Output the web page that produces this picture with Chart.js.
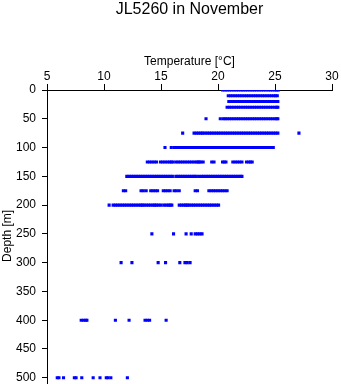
<!DOCTYPE html>
<html>
<head>
<meta charset="utf-8">
<script src="https://cdn.jsdelivr.net/npm/chart.js@4"></script>
<style>
  body { margin: 0; background: #fff; }
</style>
</head>
<body>
<canvas id="jl_chart" width="341" height="384"></canvas>
<script>
// 深さ別の水温データ (読み取り値)
var depths = [0, 10, 20, 30, 50, 75, 100, 125, 150, 175, 200, 250, 300, 400, 500];

var t0 = [20.4, 20.62, 20.8, 21.0, 21.2, 21.41, 21.6, 21.8, 22.02, 22.2, 22.4, 22.6, 22.81, 23.0, 23.2, 23.4, 23.6, 23.8, 24.0, 24.2, 24.41, 24.6, 24.8, 25.0, 25.15, 25.3];
var t10 = [20.9, 21.1, 21.3, 21.5, 21.7, 21.9, 22.1, 22.3, 22.5, 22.7, 22.9, 23.1, 23.3, 23.5, 23.7, 23.9, 24.1, 24.3, 24.5, 24.7, 24.9, 25.05, 25.2];
var t20 = [20.95, 21.15, 21.35, 21.55, 21.75, 21.95, 22.15, 22.35, 22.55, 22.75, 22.95, 23.15, 23.35, 23.55, 23.75, 23.95, 24.15, 24.35, 24.55, 24.75, 24.95, 25.1, 25.25];
var t30 = [20.8, 21.0, 21.2, 21.4, 21.6, 21.8, 22.0, 22.2, 22.4, 22.6, 22.8, 23.0, 23.2, 23.4, 23.6, 23.8, 24.0, 24.2, 24.4, 24.6, 24.8, 25.0, 25.15, 25.25];
var t50 = [18.95, 20.2, 20.45, 20.62, 20.8, 21.0, 21.2, 21.4, 21.6, 21.8, 22.0, 22.2, 22.4, 22.6, 22.8, 23.0, 23.2, 23.4, 23.6, 23.8, 24.0, 24.2, 24.4, 24.6, 24.8, 25.0, 25.15, 25.25];
var t75 = [16.9, 17.9, 18.1, 18.3, 18.5, 18.65, 18.85, 19.05, 19.25, 19.45, 19.65, 19.85, 20.05, 20.25, 20.45, 20.65, 20.85, 21.05, 21.25, 21.45, 21.65, 21.85, 22.05, 22.25, 22.45, 22.65, 22.85, 23.05, 23.25, 23.45, 23.65, 23.85, 24.05, 24.25, 24.45, 24.65, 24.85, 25.05, 25.25, 27.1];
var t100 = [15.35, 15.9, 16.15, 16.35, 16.55, 16.75, 16.95, 17.15, 17.35, 17.55, 17.75, 17.95, 18.15, 18.35, 18.55, 18.75, 18.95, 19.15, 19.35, 19.55, 19.75, 19.95, 20.15, 20.35, 20.55, 20.75, 20.95, 21.15, 21.35, 21.55, 21.75, 21.95, 22.15, 22.35, 22.55, 22.75, 22.95, 23.15, 23.35, 23.55, 23.7, 23.9, 24.1, 24.3, 24.5, 24.7, 24.85];
var t125 = [13.8, 14.0, 14.2, 14.4, 14.6, 14.95, 15.15, 15.35, 15.55, 15.75, 15.9, 16.05, 16.3, 16.5, 16.7, 16.9, 17.1, 17.3, 17.5, 17.7, 17.9, 18.1, 18.25, 18.35, 18.5, 18.7, 19.45, 19.65, 20.4, 20.55, 20.7, 21.3, 21.5, 21.7, 21.9, 22.1, 22.5, 22.7, 22.85, 23.0];
var t150 = [12.0, 12.2, 12.4, 12.6, 12.8, 13.0, 13.2, 13.4, 13.6, 13.8, 14.0, 14.2, 14.4, 14.6, 14.8, 15.0, 15.2, 15.4, 15.6, 15.8, 16.0, 16.3, 16.5, 16.7, 16.9, 17.1, 17.3, 17.5, 17.7, 17.9, 18.05, 18.3, 18.55, 18.75, 18.95, 19.15, 19.35, 19.55, 19.75, 19.95, 20.15, 20.35, 20.55, 20.75, 20.95, 21.15, 21.35, 21.55, 21.75, 21.95, 22.1];
var t175 = [11.7, 11.9, 13.25, 13.45, 13.7, 14.1, 14.3, 14.5, 14.7, 15.2, 15.4, 15.6, 15.8, 16.15, 16.35, 16.6, 18.0, 18.2, 19.2, 19.4, 19.6, 19.8, 20.0, 20.2, 20.4, 20.6, 20.8];
var t200 = [10.45, 10.8, 11.0, 11.2, 11.4, 11.6, 11.8, 12.0, 12.2, 12.4, 12.6, 12.8, 13.0, 13.2, 13.35, 13.5, 13.7, 13.9, 14.1, 14.3, 14.45, 14.6, 14.8, 15.0, 15.25, 15.45, 15.65, 15.8, 15.95, 16.6, 16.8, 17.0, 17.15, 17.3, 17.45, 17.65, 17.85, 18.05, 18.25, 18.45, 18.65, 18.85, 19.05, 19.25, 19.45, 19.65, 19.85, 20.05];
var t250 = [14.2, 16.1, 17.2, 17.65, 18.0, 18.2, 18.4, 18.6];
var t300 = [11.5, 12.45, 14.75, 15.4, 16.65, 17.1, 17.3, 17.55];
var t400 = [8.0, 8.2, 8.4, 8.5, 11.0, 12.2, 13.6, 13.8, 14.0, 15.45];
var t500 = [5.9, 6.05, 6.45, 7.4, 7.55, 8.05, 9.05, 9.65, 10.2, 10.35, 10.6, 12.05];

var tempsByDepth = [t0, t10, t20, t30, t50, t75, t100, t125, t150, t175, t200, t250, t300, t400, t500];

var xTicks = [5, 10, 15, 20, 25, 30];
var yTicks = [0, 50, 100, 150, 200, 250, 300, 350, 400, 450, 500];

var points = [];
depths.forEach(function (d, i) {
  tempsByDepth[i].forEach(function (t) {
    points.push({ x: t, y: d });
  });
});

var font12 = { family: "'Liberation Sans', Arial, sans-serif", size: 12 };

// 縦軸の線を画面下端まで伸ばす
var axisToBottom = {
  id: 'axisToBottom',
  afterDraw: function (chart) {
    var c = chart.ctx, left = Math.round(chart.chartArea.left) + 0.5;
    c.save();
    c.strokeStyle = '#000';
    c.lineWidth = 1;
    c.beginPath();
    c.moveTo(left, chart.chartArea.bottom);
    c.lineTo(left, chart.height);
    c.stroke();
    c.restore();
  }
};

var ctx = document.getElementById('jl_chart').getContext('2d');
var chart = new Chart(ctx, {
  type: 'scatter',
  data: {
    datasets: [{
      data: points,
      backgroundColor: '#0000ff',
      borderWidth: 0,
      pointStyle: 'rect',
      pointRadius: 2.2,
      pointHoverRadius: 2.2
    }]
  },
  options: {
    responsive: false,
    animation: false,
    events: [],
    layout: { padding: { left: 0, right: 9, top: 0, bottom: 0 } },
    plugins: {
      legend: { display: false },
      tooltip: { enabled: false },
      title: {
        display: true,
        fullSize: false,
        text: 'JL5260 in November',
        color: '#000',
        font: { family: "'Liberation Sans', Arial, sans-serif", size: 16, weight: 'normal' },
        padding: { top: 0, bottom: 33.8 }
      }
    },
    scales: {
      x: {
        type: 'linear',
        position: 'top',
        min: 5,
        max: 30,
        afterBuildTicks: function (scale) {
          scale.ticks = xTicks.map(function (v) { return { value: v }; });
        },
        afterFit: function (scale) {
          scale.height = 37;
          scale.paddingLeft = 0;
          scale.paddingRight = 0;
        },
        title: {
          display: true,
          text: 'Temperature [°C]',
          color: '#000',
          font: font12,
          padding: { top: 1, bottom: 0 }
        },
        ticks: { color: '#000', font: font12, padding: 0, maxRotation: 0 },
        grid: { drawOnChartArea: false, drawTicks: true, tickLength: 6, color: '#000' },
        border: { display: true, color: '#000', width: 1 }
      },
      y: {
        type: 'linear',
        reverse: true,
        min: 0,
        max: 507,
        afterBuildTicks: function (scale) {
          scale.ticks = yTicks.map(function (v) { return { value: v }; });
        },
        afterFit: function (scale) {
          scale.width = 47;
          scale.paddingTop = 0;
          scale.paddingBottom = 0;
        },
        title: {
          display: true,
          text: 'Depth [m]',
          color: '#000',
          font: font12,
          padding: { top: 0, bottom: 0 }
        },
        ticks: { color: '#000', font: font12, padding: 6 },
        grid: { drawOnChartArea: false, drawTicks: true, tickLength: 5, color: '#000' },
        border: { display: true, color: '#000', width: 1 }
      }
    }
  },
  plugins: [axisToBottom]
});
</script>
</body>
</html>
